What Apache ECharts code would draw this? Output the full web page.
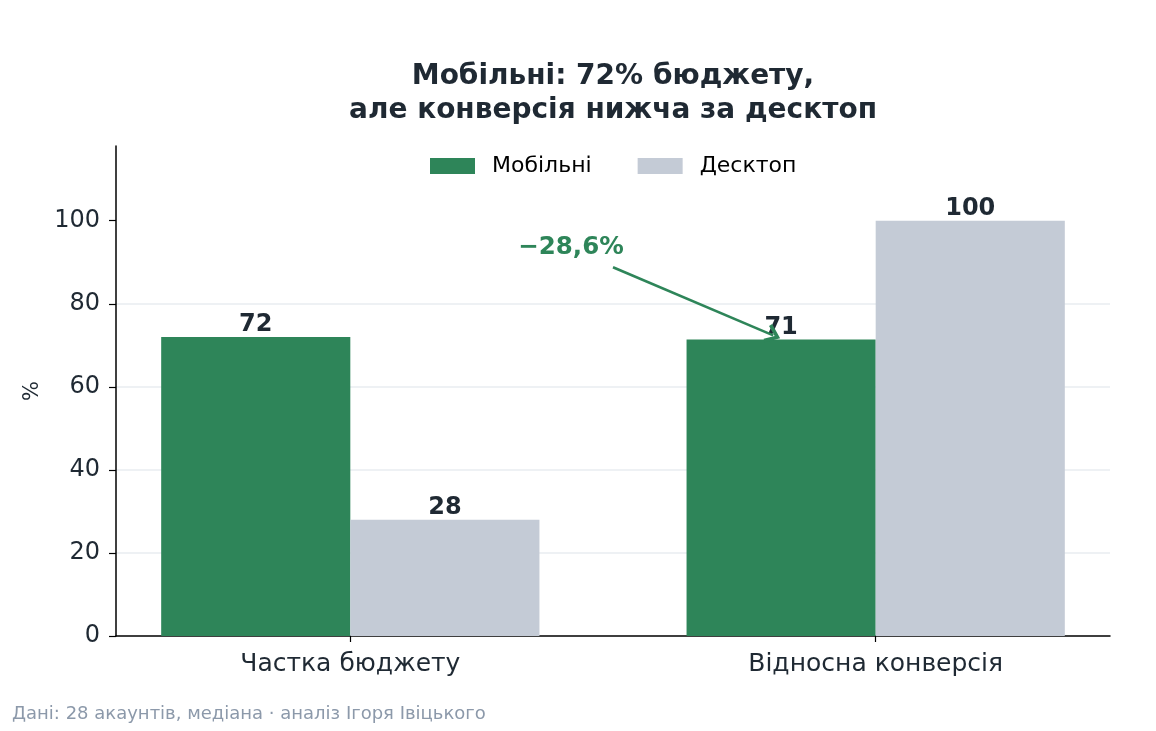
<!DOCTYPE html>
<html>
<head>
<meta charset="utf-8">
<script src="https://cdn.jsdelivr.net/npm/echarts@6/dist/echarts.min.js"></script>
<style>
html,body{margin:0;padding:0;background:#fff;}
#chart{width:1156px;height:731px;}
</style>
</head>
<body>
<div id="chart"></div>
<script>
// ---- data ----
const categories = ['Частка бюджету', 'Відносна конверсія'];
const seriesNames = ['Мобільні', 'Десктоп'];
const mobileValues = [72, 71.4];
const desktopValues = [28, 100];
const yTicks = [0, 20, 40, 60, 80, 100];
const annotationText = '−28,6%';
const annotationTextPos = [0.42, 93.6];
const arrowFrom = [0.5, 88.8];
const arrowTo = [0.805, 72.4];
const titleLines = ['Мобільні: 72% бюджету,', 'але конверсія нижча за десктоп'];
const footnote = 'Дані: 28 акаунтів, медіана · аналіз Ігоря Івіцького';

const GREEN = '#2e8559';
const GREY = '#c4cbd6';
const DARK = '#1f2933';
const FONT = '"DejaVu Sans", sans-serif';

const chart = echarts.init(document.getElementById('chart'), null, {renderer: 'canvas'});

const catIdx = categories.map((_, i) => i);

chart.setOption({
  animation: false,
  backgroundColor: '#ffffff',
  textStyle: {fontFamily: FONT},
  title: {
    text: titleLines.join('\n'),
    left: 613, top: 60, textAlign: 'center', padding: 0,
    textStyle: {fontFamily: FONT, fontSize: 28, fontWeight: 'bold', color: DARK, lineHeight: 34}
  },
  legend: {
    data: seriesNames,
    top: 155, left: 430, padding: 0,
    itemWidth: 45, itemHeight: 16, itemGap: 46,
    icon: 'rect',
    textStyle: {fontFamily: FONT, fontSize: 22, color: '#000', padding: [0, 0, 0, 12]}
  },
  grid: {left: 116, right: 46, top: 146, bottom: 95, containLabel: false},
  xAxis: {
    type: 'value',
    min: -0.446, max: 1.446,
    axisLine: {show: true, onZero: false, lineStyle: {color: '#000', width: 1.5}},
    axisTick: {show: true, length: 6, customValues: catIdx, lineStyle: {color: '#000', width: 1.2}},
    axisLabel: {
      customValues: catIdx,
      formatter: v => categories[Math.round(v)],
      fontFamily: FONT, fontSize: 25, color: DARK, margin: 16
    },
    splitLine: {show: false}
  },
  yAxis: {
    type: 'value',
    min: 0, max: 118, interval: 20,
    name: '%', nameLocation: 'middle', nameGap: 73, nameRotate: 90,
    nameTextStyle: {fontFamily: FONT, fontSize: 21, color: DARK},
    axisLine: {show: true, onZero: false, lineStyle: {color: '#000', width: 1.5}},
    axisTick: {show: true, length: 7, customValues: yTicks, lineStyle: {color: '#000', width: 1.2}},
    axisLabel: {customValues: yTicks, fontFamily: FONT, fontSize: 24, color: DARK, margin: 16},
    splitLine: {show: true, showMaxLine: false, showMinLine: false, lineStyle: {color: '#e9ecf0', width: 1.5}}
  },
  series: [
    {
      name: seriesNames[0], type: 'bar',
      data: mobileValues.map((v, i) => [i, v]),
      barWidth: '36%', barGap: '0%',
      itemStyle: {color: GREEN},
      label: {show: true, position: 'top', distance: 0, formatter: p => Math.round(p.value[1]),
        fontFamily: FONT, fontSize: 24, fontWeight: 'bold', color: DARK},
      z: 2
    },
    {
      name: seriesNames[1], type: 'bar',
      data: desktopValues.map((v, i) => [i, v]),
      barWidth: '36%', barGap: '0%',
      itemStyle: {color: GREY},
      label: {show: true, position: 'top', distance: 0, formatter: p => Math.round(p.value[1]),
        fontFamily: FONT, fontSize: 24, fontWeight: 'bold', color: DARK},
      z: 2
    },
    {
      name: 'annotation', type: 'scatter',
      data: [],
      silent: true,
      markLine: {
        silent: true, animation: false,
        symbol: ['none', 'path://M0,10 L7,0 L14,10 L11.8,11.6 L7,4.6 L2.2,11.6 Z'], symbolSize: [20, 15],
        lineStyle: {color: GREEN, width: 2.6, type: 'solid'},
        label: {show: false},
        data: [[{coord: arrowFrom}, {coord: arrowTo}]]
      },
      markPoint: {
        silent: true, animation: false,
        symbol: 'rect', symbolSize: 1,
        itemStyle: {color: 'rgba(0,0,0,0)'},
        label: {show: true, position: 'inside', formatter: annotationText,
          fontFamily: FONT, fontSize: 24.5, fontWeight: 'bold', color: GREEN},
        data: [{coord: annotationTextPos}]
      },
      z: 5
    }
  ],
  graphic: [{
    type: 'text', left: 12, top: 705,
    style: {text: footnote, fontFamily: FONT, fontSize: 18, fill: '#8c99aa'}
  }]
});
</script>
</body>
</html>
